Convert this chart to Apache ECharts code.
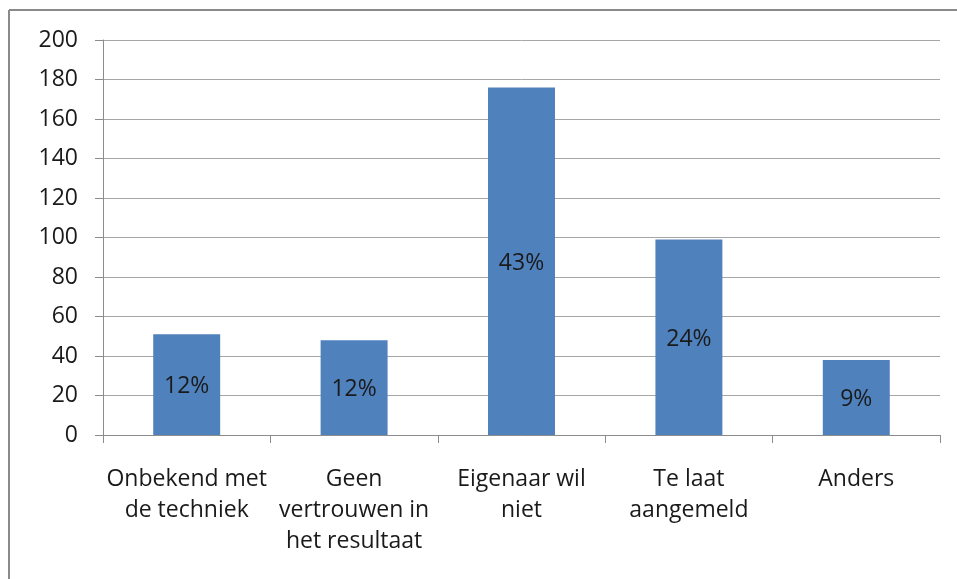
<!DOCTYPE html>
<html>
<head>
<meta charset="utf-8">
<script src="https://cdn.jsdelivr.net/npm/echarts@6/dist/echarts.min.js"></script>
<style>
html,body{margin:0;padding:0;background:#fff;}
#chart{width:957px;height:579px;}
</style>
</head>
<body>
<div id="chart"></div>
<script>
var categories = ['Onbekend met\nde techniek', 'Geen\nvertrouwen in\nhet resultaat', 'Eigenaar wil\nniet', 'Te laat\naangemeld', 'Anders'];
var values = [51, 48, 176, 99, 38];
var pctLabels = ['12%', '12%', '43%', '24%', '9%'];
var yMin = 0, yMax = 200, yStep = 20;

var FONT = 'Open Sans';
var chart = echarts.init(document.getElementById('chart'), null, {renderer: 'canvas'});
chart.setOption({
  animation: false,
  backgroundColor: '#ffffff',
  graphic: [
    {type: 'line', shape: {x1: 9, y1: 10, x2: 957, y2: 10}, style: {stroke: '#8a8a8a', lineWidth: 2}},
    {type: 'line', shape: {x1: 9, y1: 10, x2: 9, y2: 579}, style: {stroke: '#8a8a8a', lineWidth: 2}}
  ],
  grid: {left: 103, right: 17, top: 40, bottom: 144, containLabel: false},
  xAxis: {
    type: 'category',
    data: categories,
    axisLine: {lineStyle: {color: '#8c8c8c', width: 1}},
    axisTick: {show: true, length: 8, alignWithLabel: false, lineStyle: {color: '#8c8c8c'}},
    axisLabel: {
      interval: 0, margin: 29, color: '#1a1a1a',
      fontFamily: FONT, fontSize: 23, lineHeight: 31
    }
  },
  yAxis: {
    type: 'value',
    min: yMin, max: yMax, interval: yStep,
    axisLine: {show: true, lineStyle: {color: '#8c8c8c', width: 1}},
    axisTick: {show: true, length: 8, lineStyle: {color: '#8c8c8c'}},
    splitLine: {show: true, lineStyle: {color: '#a6a6a6', width: 1}},
    axisLabel: {margin: 25, color: '#1a1a1a', fontFamily: FONT, fontSize: 23}
  },
  series: [{
    type: 'bar',
    data: values,
    barWidth: '40%',
    itemStyle: {color: '#4f81bd'},
    label: {
      show: true, position: 'inside', offset: [0, 2], color: '#1a1a1a',
      fontFamily: FONT, fontSize: 23,
      formatter: function (p) { return pctLabels[p.dataIndex]; }
    }
  }]
});
</script>
</body>
</html>
